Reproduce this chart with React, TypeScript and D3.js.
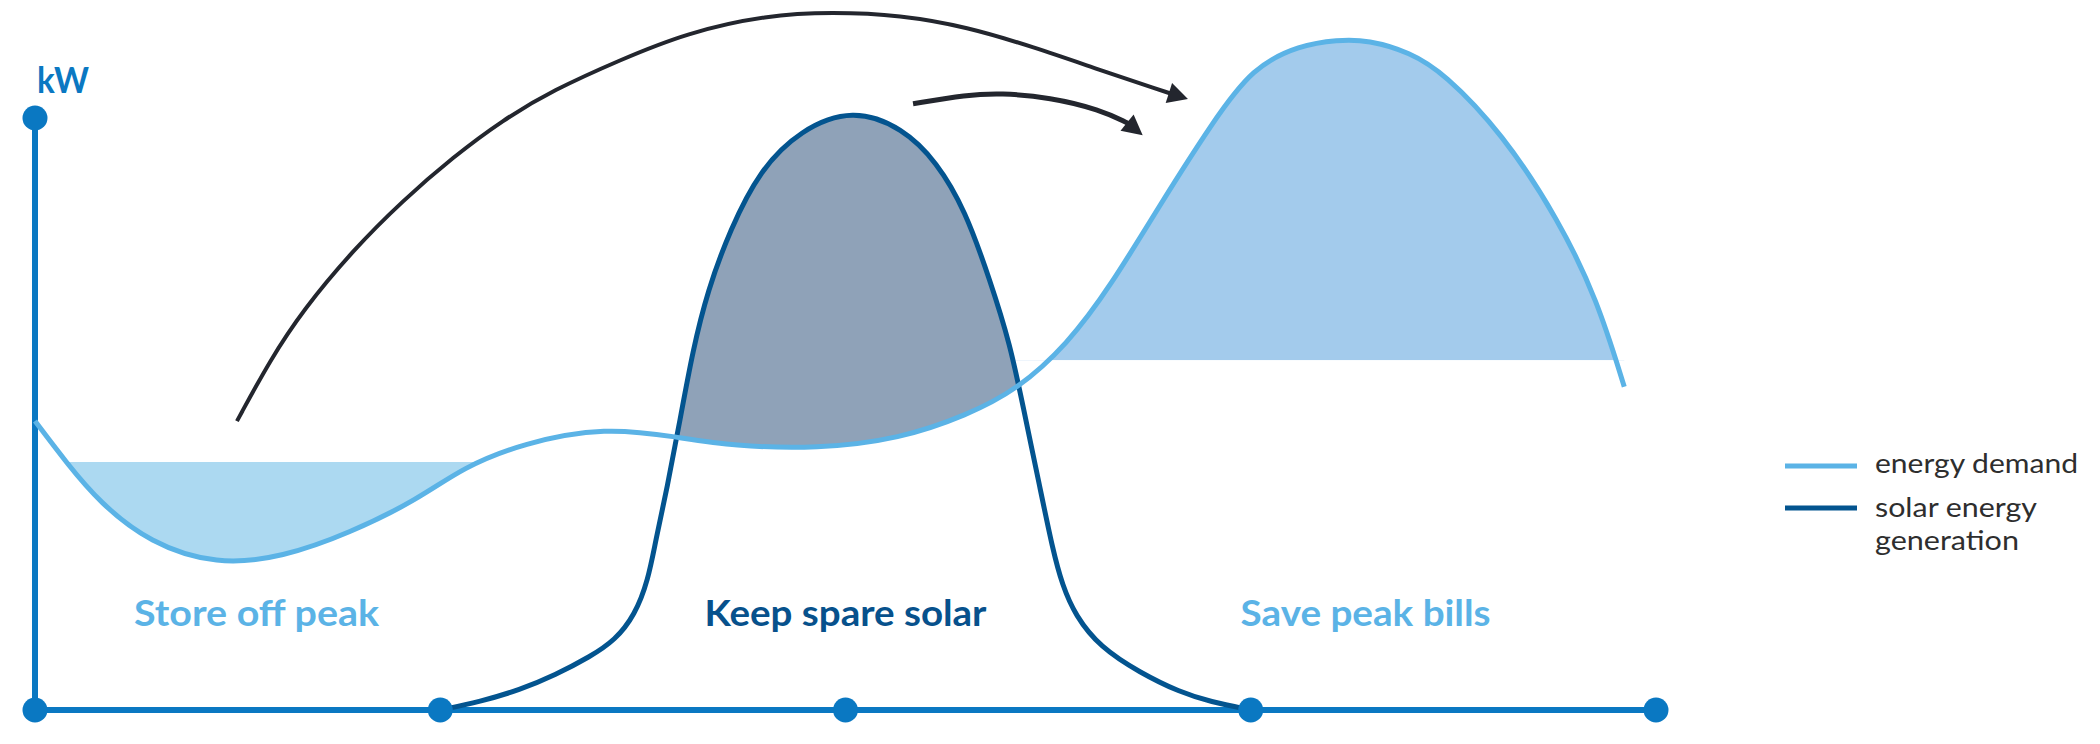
import React from 'react';
import * as d3 from 'd3';

// ---- data (hours of day, kW) ----
const axisTickHours = [0, 6, 12, 18, 24];

const demandHours = [0, 0.47, 0.96, 1.7, 2.69, 3.67, 4.66, 5.66, 6.34, 7.23, 8.45, 9.51, 10.33, 11.58, 12.81, 13.8, 14.54, 15.28, 15.92, 16.67, 17.43, 18.03, 18.73, 19.28, 19.74, 20.36, 20.86, 21.72, 22.56, 23.13, 23.53];
const demandKW = [48.8, 41.7, 35.0, 28.2, 24.5, 25.8, 29.9, 35.5, 41.0, 45.1, 47.8, 46.1, 44.6, 44.1, 45.8, 49.8, 54.1, 61.7, 71.5, 85.6, 99.2, 108.6, 112.3, 113.2, 113.2, 111.1, 107.6, 97.5, 82.8, 69.3, 54.6];

const solarHours = [6.0, 6.59, 7.18, 7.7, 8.22, 8.59, 8.88, 9.08, 9.19, 9.36, 9.55, 9.74, 9.96, 10.29, 10.73, 11.33, 12.11, 12.85, 13.35, 13.77, 14.14, 14.44, 14.63, 14.88, 15.07, 15.21, 15.4, 15.77, 16.36, 16.95, 17.4, 18.0];
const solarKW = [0, 1.4, 3.4, 5.9, 9.0, 11.8, 16.0, 22.0, 28.7, 37.5, 49.0, 60.8, 70.9, 81.1, 91.2, 98.0, 101.6, 98.3, 92.6, 84.5, 72.6, 61.7, 51.2, 37.5, 27.0, 21.1, 16.0, 10.6, 6.3, 3.0, 1.4, 0];

const offPeakLevelKW = 41.9;
const peakLevelKW = 59.1;

const bigArrowHours = [2.99, 3.48, 3.97, 4.71, 5.45, 6.19, 6.93, 7.67, 8.66, 9.65, 10.84, 11.81, 12.81, 13.8, 14.78, 15.77, 16.66, 17.07];
const bigArrowKW = [48.8, 59.1, 67.6, 77.7, 86.1, 93.4, 99.7, 104.7, 109.8, 114.4, 117.4, 117.9, 117.4, 115.4, 112.0, 108.1, 104.7, 103.2];
const smallArrowHours = [13.0, 13.8, 14.29, 15.03, 15.77, 16.17, 16.4];
const smallArrowKW = [102.4, 103.9, 104.2, 103.5, 101.4, 99.2, 97.1];

const zoneLabels = ['Store off peak', 'Keep spare solar', 'Save peak bills'];
const zoneLabelHours = [3.28, 12.0, 19.7];
const zoneLabelWidths = [245, 282, 250];
const legendLabels = ['energy demand', 'solar energy generation'];
const unitLabel = 'kW';

// ---- styles ----
const W = 2100;
const H = 744;
const AXIS = '#0A78C2';
const DEMAND = '#5BB3E6';
const SOLAR = '#03548F';
const FILL_LEFT = '#ACD9F1';
const FILL_RIGHT = '#A3CBEC';
const FILL_GREY = '#8FA2B8';
const ARROW = '#23262E';
const FONT = 'Lato, "Open Sans", sans-serif';

type P = [number, number];

export default function App() {
  const x = d3.scaleLinear().domain([0, 24]).range([35, 1656]);
  const y = d3.scaleLinear().domain([0, 100]).range([710, 118]);

  const demand: P[] = demandHours.map((h, i) => [h, demandKW[i]]);
  const solar: P[] = solarHours.map((h, i) => [h, solarKW[i]]);

  const curve = d3.curveBasis;
  const line = d3.line<P>().x(d => x(d[0])).y(d => y(d[1])).curve(curve);

  const leftFill = d3.area<P>().x(d => x(d[0])).y0(y(offPeakLevelKW)).y1(d => y(d[1])).curve(curve);
  const rightFill = d3.area<P>().x(d => x(d[0])).y0(y(peakLevelKW)).y1(d => y(d[1])).curve(curve);
  const aboveDemand = d3.area<P>().x(d => x(d[0])).y0(0).y1(d => y(d[1])).curve(curve);
  const solarArea = d3.area<P>().x(d => x(d[0])).y0(y(0)).y1(d => y(d[1])).curve(curve);

  const arrowLine = d3.line<P>().x(d => x(d[0])).y(d => y(d[1])).curve(d3.curveBasis);

  const arrow = (hs: number[], ks: number[], width: number, headLen: number, headW: number) => {
    const pts: P[] = hs.map((h, i) => [h, ks[i]]);
    const tip = pts[pts.length - 1];
    const prev = pts[pts.length - 2];
    const tx = x(tip[0]), ty = y(tip[1]);
    const px = x(prev[0]), py = y(prev[1]);
    const len = Math.hypot(tx - px, ty - py);
    const ux = (tx - px) / len, uy = (ty - py) / len;
    const bx = tx - ux * headLen, by = ty - uy * headLen;
    const nx = -uy, ny = ux;
    const head = `M${tx},${ty}L${bx + nx * headW / 2},${by + ny * headW / 2}L${bx - nx * headW / 2},${by - ny * headW / 2}Z`;
    const shaftPts = pts.slice(0, -1).concat([[x.invert(bx + ux * 2), y.invert(by + uy * 2)] as P]);
    return (
      <g>
        <path d={arrowLine(shaftPts) || ''} fill="none" stroke={ARROW} strokeWidth={width} />
        <path d={head} fill={ARROW} />
      </g>
    );
  };

  const labelKW = 14.2;
  const labelColors = [DEMAND, '#07518C', DEMAND];

  return (
    <svg width={W} height={H} style={{ position: 'absolute', left: 0, top: 0, background: '#fff' }}>
      <defs>
        <clipPath id="clipLeft">
          <rect x={x(0)} y={y(offPeakLevelKW)} width={x(8) - x(0)} height={y(0) - y(offPeakLevelKW)} />
        </clipPath>
        <clipPath id="clipRight">
          <rect x={x(14)} y={0} width={x(24) - x(14)} height={y(peakLevelKW)} />
        </clipPath>
        <clipPath id="clipAboveDemand">
          <path d={aboveDemand(demand) || ''} />
        </clipPath>
      </defs>

      {/* fills */}
      <path d={leftFill(demand) || ''} fill={FILL_LEFT} clipPath="url(#clipLeft)" />
      <path d={rightFill(demand) || ''} fill={FILL_RIGHT} clipPath="url(#clipRight)" />
      <path d={solarArea(solar) || ''} fill={FILL_GREY} clipPath="url(#clipAboveDemand)" />

      {/* axes */}
      <line x1={x(0)} x2={x(0)} y1={y(0)} y2={y(100)} stroke={AXIS} strokeWidth={6} />
      <line x1={x(0)} x2={x(24)} y1={y(0)} y2={y(0)} stroke={AXIS} strokeWidth={6} />

      {/* curves */}
      <path d={line(solar) || ''} fill="none" stroke={SOLAR} strokeWidth={5} />
      <path d={line(demand) || ''} fill="none" stroke={DEMAND} strokeWidth={5} />

      {axisTickHours.map(h => (
        <circle key={h} cx={x(h)} cy={y(0)} r={12.5} fill={AXIS} />
      ))}
      <circle cx={x(0)} cy={y(100)} r={12.5} fill={AXIS} />

      <text x={37} y={93} fontFamily={FONT} fontWeight={700} fontSize={36} fill={AXIS}
        textLength={52} lengthAdjust="spacingAndGlyphs">{unitLabel}</text>

      {/* arrows */}
      {arrow(bigArrowHours, bigArrowKW, 4, 20, 21)}
      {arrow(smallArrowHours, smallArrowKW, 5, 20, 21)}

      {/* zone labels */}
      {zoneLabels.map((t, i) => (
        <text key={t} x={x(zoneLabelHours[i])} y={y(labelKW)} textAnchor="middle" fontFamily={FONT}
          fontWeight={700} fontSize={36} fill={labelColors[i]}
          textLength={zoneLabelWidths[i]} lengthAdjust="spacingAndGlyphs">{t}</text>
      ))}

      {/* legend */}
      <line x1={1785} x2={1857} y1={466} y2={466} stroke={DEMAND} strokeWidth={5} />
      <line x1={1785} x2={1857} y1={508} y2={508} stroke={SOLAR} strokeWidth={5} />
      <text x={1875} y={473} fontFamily={FONT} fontSize={26} fill="#2E2E2E"
        textLength={203} lengthAdjust="spacingAndGlyphs">{legendLabels[0]}</text>
      <text x={1875} y={517} fontFamily={FONT} fontSize={26} fill="#2E2E2E"
        textLength={162} lengthAdjust="spacingAndGlyphs">{legendLabels[1].split(' ').slice(0, 2).join(' ')}</text>
      <text x={1875} y={550} fontFamily={FONT} fontSize={26} fill="#2E2E2E"
        textLength={144} lengthAdjust="spacingAndGlyphs">{legendLabels[1].split(' ').slice(2).join(' ')}</text>
    </svg>
  );
}
